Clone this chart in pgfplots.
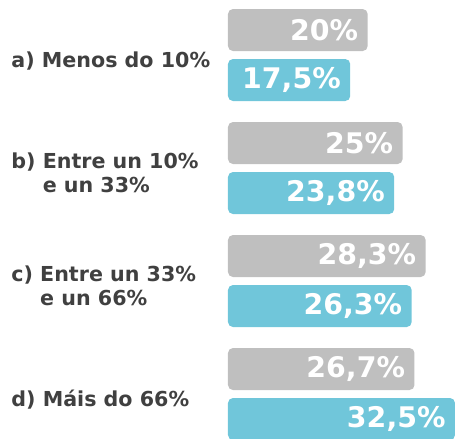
\documentclass[border=0pt]{standalone}
\usepackage{fontspec}
\setmainfont{DejaVu Sans}
\usepackage{pgfplots}
\pgfplotsset{compat=1.18}
\definecolor{bargrey}{HTML}{BFBFBF}
\definecolor{barcyan}{HTML}{70C6DA}
\definecolor{labelgrey}{HTML}{404040}

\begin{document}
\begin{tikzpicture}
\begin{axis}[
    name=ax,
    x=6.985bp, y=113bp,
    xmin=0, xmax=32.5,
    ymin=-0.487, ymax=3.398,
    y dir=reverse,
    xbar, bar width=42bp,
    axis x line=none, axis y line=left,
    y axis line style={draw=none},
    ytick={0,1,2,3}, ytick style={draw=none},
    yticklabels={{a) Menos do 10\%},
                 {b) Entre un 10\%\\\phantom{b) }e un 33\%},
                 {c) Entre un 33\%\\\phantom{c) }e un 66\%},
                 {d) Máis do 66\%}},
    yticklabel style={anchor=west, align=left, xshift=-218bp, yshift=-6bp,
        font=\fontsize{20.7}{25}\selectfont\bfseries, text=labelgrey},
    nodes near coords={\pgfmathprintnumber[use comma,fixed,precision=1]{\pgfplotspointmeta}\%},
    every node near coord/.append style={anchor=east, xshift=-6bp, text=white,
        font=\fontsize{28.5}{32}\selectfont\bfseries,
        /pgf/number format/assume math mode=true},
]
\addplot[draw=none, fill=bargrey, rounded corners=5bp, bar shift=25bp]
    coordinates {(20,0) (25,1) (28.3,2) (26.7,3)};
\addplot[draw=none, fill=barcyan, rounded corners=5bp, bar shift=-25bp]
    coordinates {(17.5,0) (23.8,1) (26.3,2) (32.5,3)};
\end{axis}
\pgfresetboundingbox
\path[use as bounding box] (ax.south west) ++(-228bp,0) rectangle (ax.north east);
\end{tikzpicture}
\end{document}
